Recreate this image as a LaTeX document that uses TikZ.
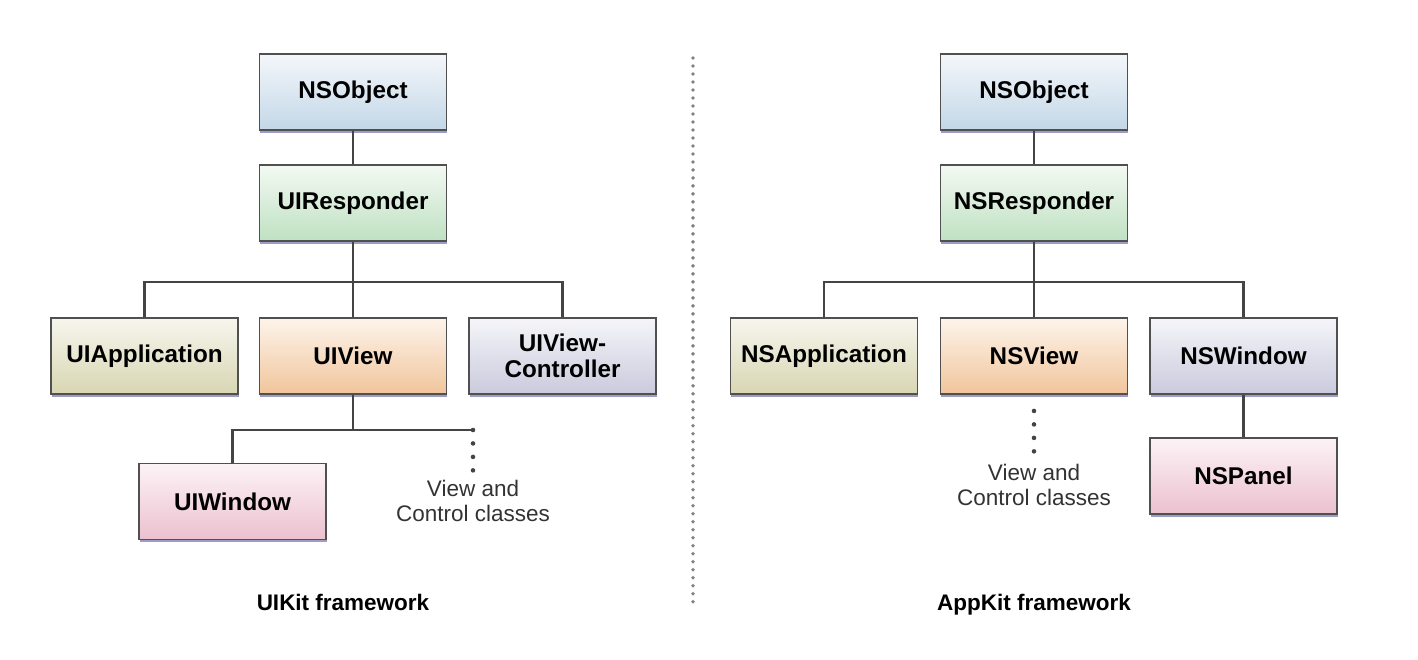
\documentclass[tikz,border=0pt]{standalone}
\usepackage{fontspec}
\setmainfont{Liberation Sans}
\usepackage{tikz}
\usetikzlibrary{positioning, shadows, calc}
\definecolor{lineGray}{HTML}{444444}
\definecolor{boxEdge}{HTML}{505050}
\definecolor{shadowBlue}{HTML}{8484B4}
\definecolor{objTop}{HTML}{F4F7FA}
\definecolor{objBot}{HTML}{C3D7E8}
\definecolor{respTop}{HTML}{F3F9F3}
\definecolor{respBot}{HTML}{BFE1C2}
\definecolor{appTop}{HTML}{F7F6EE}
\definecolor{appBot}{HTML}{D8D6B2}
\definecolor{viewTop}{HTML}{FDF4EB}
\definecolor{viewBot}{HTML}{F1C59C}
\definecolor{ctlTop}{HTML}{F5F5F9}
\definecolor{ctlBot}{HTML}{CACADD}
\definecolor{winTop}{HTML}{FCF3F6}
\definecolor{winBot}{HTML}{ECC0CF}

\begin{document}
\begin{tikzpicture}[
 cls/.style={rectangle,draw=boxEdge,line width=1.1pt,
 minimum width=3.74cm,minimum height=1.52cm,align=center,
 font=\fontsize{13.8}{15}\selectfont\bfseries,
 drop shadow={shadow xshift=0.3pt,shadow yshift=-1.6pt,fill=shadowBlue,opacity=0.8}},
 link/.style={draw=lineGray,line width=1.4pt},
 more/.style={draw=lineGray,line width=2.6pt,line cap=round,dash pattern=on 0pt off 7.66pt},
 note/.style={align=center,font=\fontsize{12.8}{14.7}\selectfont,text=black!80},
 caption/.style={anchor=base,font=\fontsize{12.8}{15}\selectfont\bfseries}]
\useasboundingbox (0,0) rectangle (28.36,-13.2);
% UIKit side
\node[cls,top color=objTop,bottom color=objBot] (uiobj) at (7.06,-1.84) {NSObject};
\node[cls,top color=respTop,bottom color=respBot] (uiresp) at (7.06,-4.06) {UIResponder};
\node[cls,top color=appTop,bottom color=appBot] (uiapp) at (2.89,-7.12) {UIApplication};
\node[cls,top color=viewTop,bottom color=viewBot] (uiview) at (7.06,-7.12) {UIView};
\node[cls,top color=ctlTop,bottom color=ctlBot] (uivc) at (11.25,-7.12) {UIView-\\Controller};
\node[cls,top color=winTop,bottom color=winBot] (uiwin) at (4.65,-10.03) {UIWindow};
\coordinate (uibr) at (7.06,-5.64);
\coordinate (uimore) at (9.46,-8.6);
\node[note,anchor=north] (uinote) at (9.46,-9.47) {View and\\Control classes};
\node[caption] (uikit) at (6.86,-12.21) {UIKit framework};
\draw[link] (uiobj) -- (uiresp);
\draw[link] (uiresp) -- (uiview);
\draw[link] (uiapp.north) |- (uibr) -| (uivc.north);
\draw[link] (uiwin.north) |- (uimore);
\draw[link] (uiview.south) -- (uiview.south |- uimore);
\draw[more] (uimore) -- ++(0,-0.82);
% divider
\coordinate (top) at (13.86,-1.16);
\coordinate (bot) at (13.86,-12.06);
\draw[draw=gray,line width=2.2pt,line cap=round,dash pattern=on 0pt off 4.55pt] (top) -- (bot);
% AppKit side
\node[cls,top color=objTop,bottom color=objBot] (nsobj) at (20.68,-1.84) {NSObject};
\node[cls,top color=respTop,bottom color=respBot] (nsresp) at (20.68,-4.06) {NSResponder};
\node[cls,top color=appTop,bottom color=appBot] (nsapp) at (16.48,-7.12) {NSApplication};
\node[cls,top color=viewTop,bottom color=viewBot] (nsview) at (20.68,-7.12) {NSView};
\node[cls,top color=ctlTop,bottom color=ctlBot] (nswin) at (24.87,-7.12) {NSWindow};
\node[cls,top color=winTop,bottom color=winBot] (nspanel) at (24.87,-9.52) {NSPanel};
\coordinate (nsbr) at (20.68,-5.64);
\node[note,anchor=north] (nsnote) at (20.68,-9.15) {View and\\Control classes};
\node[caption] (appkit) at (20.68,-12.21) {AppKit framework};
\draw[link] (nsobj) -- (nsresp);
\draw[link] (nsresp) -- (nsview);
\draw[link] (nsapp.north) |- (nsbr) -| (nswin.north);
\draw[link] (nswin) -- (nspanel);
\draw[more] ($(nsview.south)+(0,-0.32)$) -- ++(0,-0.82);
\end{tikzpicture}
\end{document}
